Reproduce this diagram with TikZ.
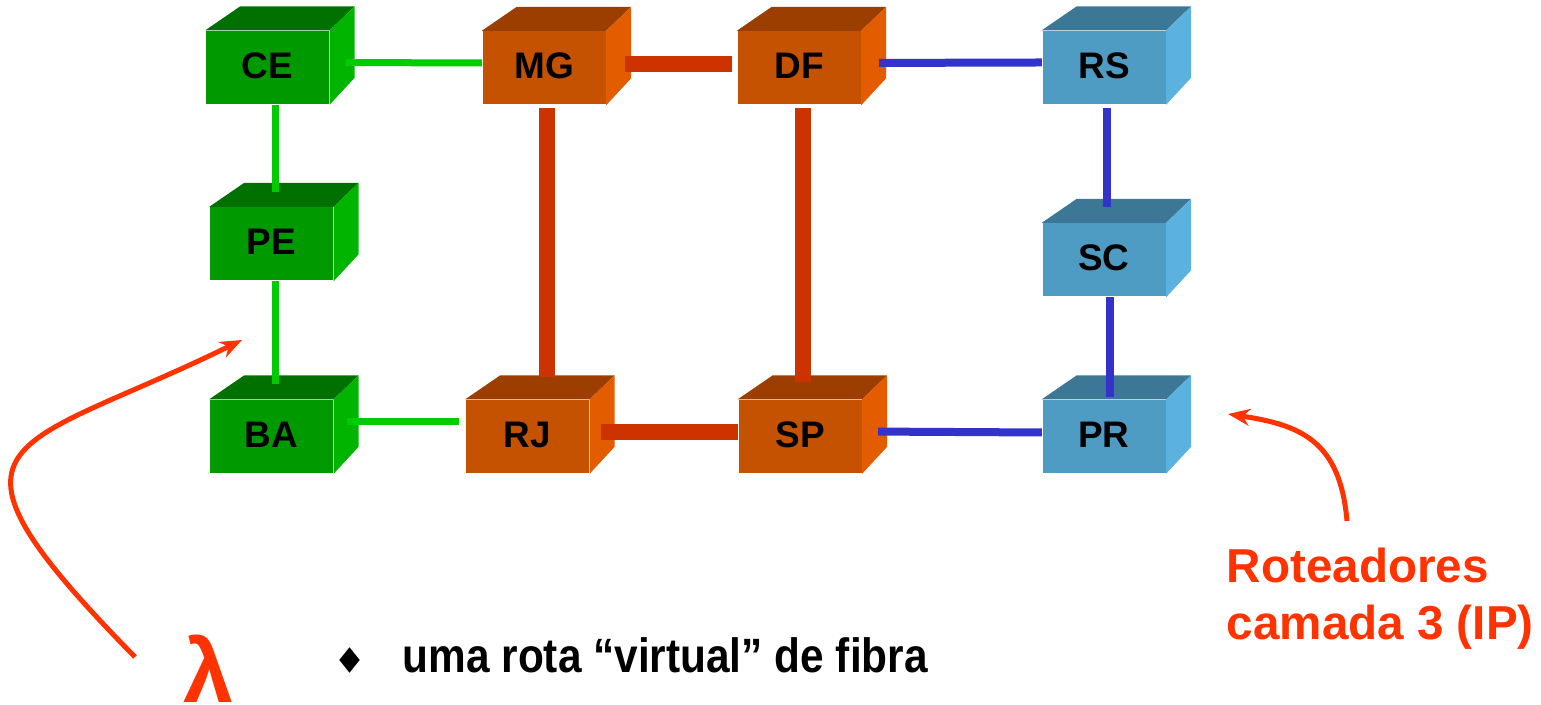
\documentclass[tikz,border=0pt]{standalone}
\usepackage{fontspec}
\setmainfont{Liberation Sans}
\usetikzlibrary{arrows.meta,shapes.geometric}

\definecolor{grfront}{RGB}{0,153,0}
\definecolor{grtop}{RGB}{0,112,0}
\definecolor{grside}{RGB}{0,180,0}
\definecolor{orfront}{RGB}{196,82,0}
\definecolor{ortop}{RGB}{155,62,0}
\definecolor{orside}{RGB}{228,92,0}
\definecolor{blfront}{RGB}{78,155,196}
\definecolor{bltop}{RGB}{60,120,150}
\definecolor{blside}{RGB}{92,178,222}
\definecolor{lkgreen}{RGB}{0,204,0}
\definecolor{lkorange}{RGB}{204,51,0}
\definecolor{lkblue}{RGB}{51,51,204}
\definecolor{callred}{RGB}{255,51,0}

\tikzset{
    routerbox/.style={minimum width=1.23cm, minimum height=0.73cm, inner sep=0pt,
        font=\fontsize{10.5}{12}\selectfont\bfseries},
    greenlink/.style={draw=lkgreen, line width=0.07cm},
    fiber/.style={draw=lkorange, line width=0.16cm},
    bluelink/.style={draw=lkblue, line width=0.08cm},
    callout/.style={draw=callred, line width=0.05cm, -{Stealth[length=0.22cm, width=0.17cm]}}
}

% name, position, label, front, top, side
\newcommand{\cubenode}[6]{
    \node[routerbox, fill=#4] (#1) at (#2) {\raisebox{0.04cm}{#3}};
    \fill[#5] (#1.north west) -- ++(0.35,0.24) -- ([shift={(0.25,0.24)}]#1.north east) -- (#1.north east) -- cycle;
    \fill[#6] (#1.north east) -- ++(0.25,0.24) -- ([shift={(0.25,0.27)}]#1.south east) -- (#1.south east) -- cycle;
}

\begin{document}
\begin{tikzpicture}

    \useasboundingbox (0,0) rectangle (15.41,7.05);

    % Green routers
    \cubenode{CE}{2.675,6.375}{CE}{grfront}{grtop}{grside}
    \cubenode{PE}{2.715,4.61}{PE}{grfront}{grtop}{grside}
    \cubenode{BA}{2.715,2.685}{BA}{grfront}{grtop}{grside}

    % Orange routers
    \cubenode{MG}{5.44,6.37}{MG}{orfront}{ortop}{orside}
    \cubenode{DF}{7.99,6.37}{DF}{orfront}{ortop}{orside}
    \cubenode{RJ}{5.275,2.685}{RJ}{orfront}{ortop}{orside}
    \cubenode{SP}{8.0,2.685}{SP}{orfront}{ortop}{orside}

    % Blue routers
    \cubenode{RS}{11.04,6.375}{RS}{blfront}{bltop}{blside}
    \cubenode{SC}{11.04,4.45}{SC}{blfront}{bltop}{blside}
    \cubenode{PR}{11.04,2.685}{PR}{blfront}{bltop}{blside}

    % Green links
    \draw[greenlink, shorten <=0.16cm] ([yshift=0.05cm]CE.east) -- ([yshift=0.05cm]MG.west);
    \draw[greenlink, shorten >=0.15cm] ([xshift=0.04cm]PE.north |- CE.south) -- ([xshift=0.04cm]PE.north);
    \draw[greenlink, shorten >=0.15cm] ([xshift=0.04cm]PE.south) -- ([xshift=0.04cm]PE.south |- BA.north);
    \draw[greenlink, shorten <=0.13cm, shorten >=0.06cm] ([yshift=0.15cm]BA.east) -- ([yshift=0.15cm]BA.east -| RJ.west);

    % Orange fibers
    \draw[fiber, shorten <=0.19cm, shorten >=0.05cm] ([yshift=0.04cm]MG.east) -- ([yshift=0.04cm]DF.west);
    \draw[fiber, shorten <=0.03cm, shorten >=0.22cm] ([xshift=0.03cm]MG.south) -- ([xshift=0.03cm]MG.south |- RJ.north);
    \draw[fiber, shorten <=0.03cm, shorten >=0.17cm] ([xshift=0.04cm]DF.south) -- ([xshift=0.04cm]DF.south |- SP.north);
    \draw[fiber, shorten <=0.11cm] ([yshift=0.045cm]RJ.east) -- ([yshift=0.045cm]SP.west);

    % Blue links
    \draw[bluelink, shorten <=0.18cm] ([yshift=0.05cm]DF.east) -- ([yshift=0.05cm]RS.west);
    \draw[bluelink, shorten <=0.03cm, shorten >=0.16cm] ([xshift=0.03cm]RS.south) -- ([xshift=0.03cm]SC.north);
    \draw[bluelink, shorten >=0.02cm] ([xshift=0.06cm]SC.south) -- ([xshift=0.06cm]PR.north);
    \draw[bluelink, shorten <=0.16cm] ([yshift=0.05cm]SP.east) -- ([yshift=0.04cm]PR.west);

    % Captions
    \node[text=callred, font=\fontsize{25.6}{28}\selectfont\bfseries, anchor=base, inner sep=0pt] (lambda) at (2.085,0.02) {λ};
    \node[diamond, fill=black, minimum width=0.21cm, minimum height=0.26cm, inner sep=0pt] (bullet) at (3.495,0.45) {};
    \node[font=\fontsize{13.7}{16}\selectfont\bfseries, anchor=base west, inner sep=0pt] (route) at (4.02,0.32) {\scalebox{0.88}[1]{uma rota “virtual” de fibra}};
    \node[text=callred, font=\fontsize{13.55}{16.2}\selectfont\bfseries, align=left, anchor=north west, inner sep=0pt] (ip) at (12.26,1.58) {Roteadores\\camada 3 (IP)};

    % Callout arrows
    \coordinate (lamstart) at (1.35,0.48);
    \coordinate (lamend) at (2.42,3.65);
    \coordinate (ipstart) at (13.47,1.84);
    \coordinate (ipend) at (12.28,2.91);
    \draw[callout] (lamstart) .. controls (-0.85,2.72) and (0.12,2.52) .. (lamend);
    \draw[callout] (ipstart) .. controls (13.40,2.65) and (13.0,2.80) .. (ipend);

\end{tikzpicture}
\end{document}
